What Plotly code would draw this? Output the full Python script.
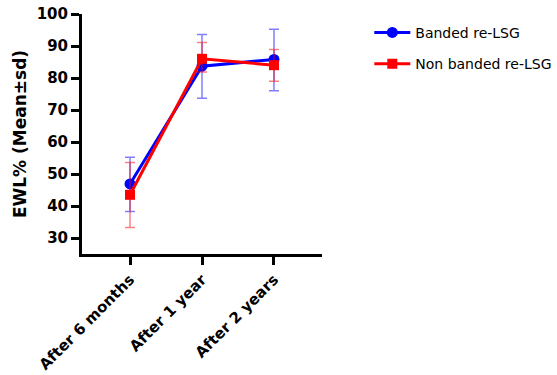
import plotly.graph_objects as go

categories = ["After 6 months", "After 1 year", "After 2 years"]
banded_mean = [46.9, 83.7, 85.8]
banded_plus = [8.3, 9.9, 9.4]
banded_minus = [8.6, 10.0, 9.8]
nonbanded_mean = [43.5, 86.0, 84.0]
nonbanded_plus = [10.1, 5.1, 4.9]
nonbanded_minus = [10.2, 4.1, 5.0]
y_ticks = [30, 40, 50, 60, 70, 80, 90, 100]

font_family = "DejaVu Sans, sans-serif"
x_idx = list(range(len(categories)))

fig = go.Figure()
fig.add_trace(go.Scatter(
    x=x_idx, y=banded_mean, name="Banded re-LSG", mode="lines+markers",
    line=dict(color="#0000ff", width=3),
    marker=dict(symbol="circle", size=11, color="#0000ff"),
    error_y=dict(type="data", symmetric=False, array=banded_plus, arrayminus=banded_minus,
                 color="rgba(0,0,255,0.5)", thickness=1.5, width=5),
    legendgroup="a", cliponaxis=False,
))
fig.add_trace(go.Scatter(
    x=x_idx, y=nonbanded_mean, name="Non banded re-LSG", mode="lines+markers",
    line=dict(color="#ff0000", width=3),
    marker=dict(symbol="square", size=10, color="#ff0000"),
    error_y=dict(type="data", symmetric=False, array=nonbanded_plus, arrayminus=nonbanded_minus,
                 color="rgba(255,0,0,0.5)", thickness=1.5, width=5),
    legendgroup="b", cliponaxis=False,
))

fig.update_layout(
    width=557, height=375,
    margin=dict(l=82, r=235, t=14, b=121),
    paper_bgcolor="white", plot_bgcolor="white",
    font=dict(family=font_family, color="black"),
    showlegend=True,
    legend=dict(
        xref="container", yref="container",
        x=0.663, xanchor="left", y=0.955, yanchor="top",
        font=dict(size=14, color="black", family=font_family),
        tracegroupgap=10, itemwidth=36, bgcolor="rgba(0,0,0,0)",
    ),
    xaxis=dict(
        range=[-0.667, 2.667], tickmode="array", tickvals=x_idx, ticktext=categories,
        tickangle=-45, showline=True, linecolor="black", linewidth=3,
        ticks="outside", ticklen=8, tickwidth=3, tickcolor="black",
        showgrid=False, zeroline=False, automargin=False,
        tickfont=dict(size=15, family=font_family, weight="bold"),
    ),
    yaxis=dict(
        range=[25, 100], tickmode="array", tickvals=y_ticks,
        showline=True, linecolor="black", linewidth=3,
        ticks="outside", ticklen=8, tickwidth=3, tickcolor="black",
        showgrid=False, zeroline=False, automargin=False,
        tickfont=dict(size=15, family=font_family, weight="bold"),
        title=dict(text="EWL% (Mean±sd)", font=dict(size=17, family=font_family, weight="bold"), standoff=6),
    ),
)

fig.write_html("out.html")
